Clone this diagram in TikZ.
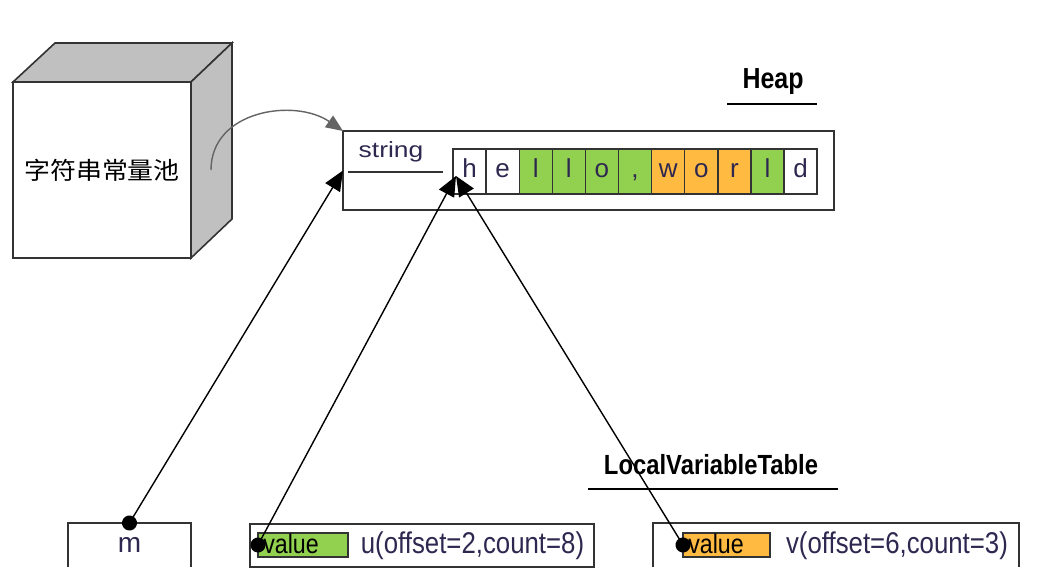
\documentclass[tikz,border=0pt]{standalone}
\usepackage{fontspec}
\setmainfont{Liberation Sans}
\newfontfamily\narrowfont[FakeStretch=0.86]{Liberation Sans}
\newfontfamily\widefont[FakeStretch=1.2]{Liberation Sans}
\newfontfamily\cjkfont[FakeStretch=1.08]{Noto Sans CJK SC}
\usepackage{tikz}
\usetikzlibrary{arrows.meta}
\usetikzlibrary{calc}
\usetikzlibrary{positioning}

\definecolor{cellgreen}{RGB}{146,208,80}
\definecolor{cellorange}{RGB}{255,186,66}
\definecolor{cubegray}{RGB}{192,192,192}
\definecolor{ink}{RGB}{46,40,80}
\definecolor{edgegray}{RGB}{51,51,51}
\definecolor{curvegray}{RGB}{100,100,100}

\begin{document}
\begin{tikzpicture}[x=1pt,y=-1pt,semithick]
	\tikzstyle{box}=[draw=edgegray, line width=1.6pt, inner sep=0pt, outer sep=0pt]
	\tikzstyle{side}=[draw=edgegray, line width=1.6pt]
	\tikzstyle{cell}=[draw=edgegray, line width=1.4pt, minimum width=33.1pt, minimum height=45pt, inner sep=0pt, outer sep=0pt, text height=13pt, text depth=0pt, font=\fontsize{26}{30}\selectfont, text=ink]
	\tikzstyle{valbox}=[draw=edgegray, line width=1.5pt, minimum width=90pt, minimum height=24pt, inner sep=0pt, outer sep=0pt]
	\tikzstyle{valtxt}=[inner sep=0pt, font=\narrowfont\fontsize{27}{32}\selectfont]
	\tikzstyle{vartxt}=[inner sep=0pt, text=ink, font=\narrowfont\fontsize{30}{34}\selectfont]
	\tikzstyle{title}=[inner sep=0pt, font=\narrowfont\bfseries\fontsize{29}{34}\selectfont]
	\tikzstyle{ptr}=[{Circle[length=15pt]}-{Triangle[length=20pt,width=17pt]}, line width=1.4pt, shorten <=-7.5pt]
	\path[use as bounding box, fill=white] (0,0) rectangle (1062,588);

	% string constant pool
	\node[box, fill=white, minimum width=178pt, minimum height=176pt, font=\cjkfont\fontsize{24}{28}\selectfont] (pool) at (102,170) {字符串常量池};
	\draw[side, fill=cubegray] (pool.north west) -- ++(42,-39) -- ++(177,0) -- (pool.north east) -- cycle;
	\draw[side, fill=cubegray] (pool.north east) -- ++(41,-39) -- ++(0,176) -- (pool.south east) -- cycle;
	\coordinate (poolside) at (211,170);

	% heap
	\node[title] (heaplbl) at (773,82) {Heap};
	\draw[line width=1.6pt] (727,104) -- (817,104);
	\node[box, minimum width=491pt, minimum height=79pt] (heap) at (588.5,170.5) {};
	\node[inner sep=0pt, text=ink, font=\widefont\fontsize{22}{26}\selectfont] (strlbl) at (391,152) {string};
	\draw[side] (348,172) -- (443,172);
	\foreach \ch/\col [count=\i] in {h/white,e/white,l/cellgreen,l/cellgreen,o/cellgreen,{,}/cellgreen,w/cellorange,o/cellorange,r/cellorange,l/cellgreen,d/white}
		\node[cell, fill=\col] (c\i) at (453+33.1*\i-16.55,171.5) {\ch};
	\coordinate (hptr) at ([xshift=3,yshift=18]c1.south west);

	% local variable table
	\node[title, font=\narrowfont\bfseries\fontsize{27.7}{32}\selectfont] (lvtlbl) at (711,465) {LocalVariableTable};
	\draw[line width=1.6pt] (588,489) -- (838,489);

	\node[minimum width=123pt, minimum height=44pt, inner sep=0pt, outer sep=0pt, text=ink, font=\fontsize{28}{32}\selectfont] (mbox) at (129.5,545) {m};
	\draw[side] (mbox.south west) -- (mbox.north west) -- (mbox.north east) -- (mbox.south east);

	\node[box, minimum width=344pt, minimum height=43pt] (ubox) at (422,545.5) {};
	\node[valbox, fill=cellgreen] (uval) at (303,545) {};
	\node[valtxt, anchor=west] at ([xshift=5,yshift=1]uval.west) {value};
	\node[vartxt] (utxt) at (472.5,546) {u(offset=2,count=8)};

	\node[minimum width=366pt, minimum height=44pt, inner sep=0pt, outer sep=0pt] (vbox) at (836,545) {};
	\draw[side] (vbox.south west) -- (vbox.north west) -- (vbox.north east) -- (vbox.south east);
	\node[valbox, fill=cellorange, minimum width=87pt] (vval) at (726.5,545) {};
	\node[valtxt, anchor=west] at ([xshift=5,yshift=1]vval.west) {value};
	\node[vartxt] (vtxt) at (897,546) {v(offset=6,count=3)};

	% references
	\draw[curvegray, line width=1.4pt, -{Triangle[length=17pt,width=14pt]}] (poolside) .. controls (211,110) and (295,98) .. (heap.north west);
	\draw[ptr] (mbox.north) -- (heap.west);
	\draw[ptr] (uval.west) -- (hptr);
	\draw[ptr] (vval.west) -- (hptr);
\end{tikzpicture}
\end{document}
